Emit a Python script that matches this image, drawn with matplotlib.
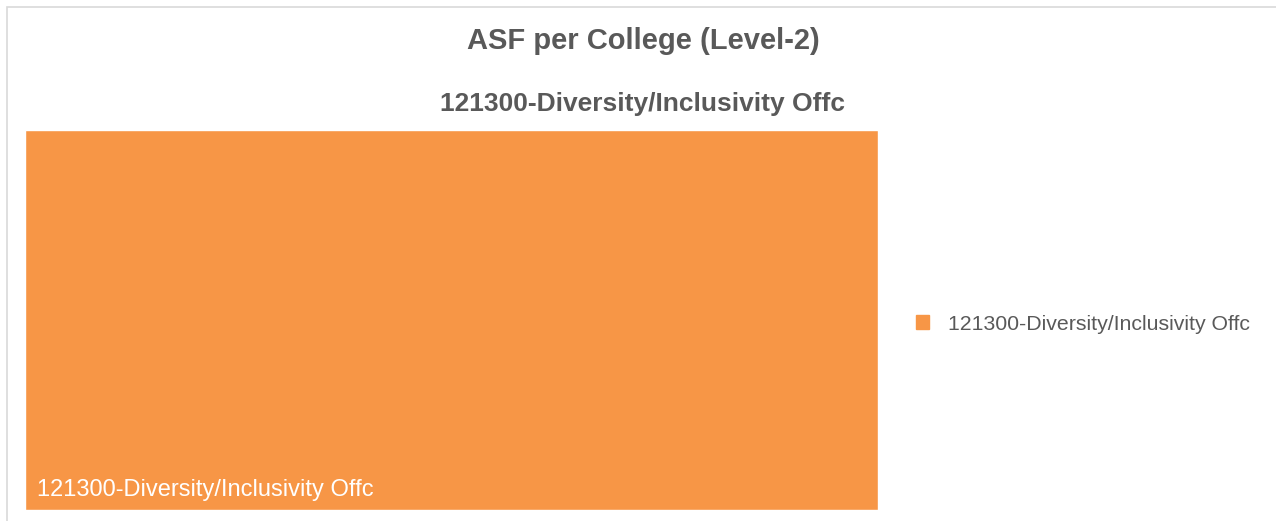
import matplotlib
matplotlib.use('Agg')
import matplotlib.pyplot as plt
import matplotlib.patches as patches

# Data
categories = ['121300-Diversity/Inclusivity Offc']
values = [1.0]
colors = ['#F79646']

plt.rcParams['font.family'] = ['Liberation Sans', 'DejaVu Sans']

W, H = 1276, 521
fig = plt.figure(figsize=(W / 100, H / 100), dpi=100)

# outer chart border
border = patches.Rectangle((7 / W, -0.1), 1.2, (H - 7) / H + 0.1, transform=fig.transFigure,
                           fill=False, edgecolor='#D9D9D9', linewidth=1.2)
fig.patches.append(border)

fig.text(643 / W, 1 - 41 / H, 'ASF per College (Level-2)', ha='center', va='center',
         fontsize=21, fontweight='bold', color='#595959')
fig.text(643 / W, 1 - 104 / H, '121300-Diversity/Inclusivity Offc', ha='center', va='center',
         fontsize=19, fontweight='bold', color='#595959')

# plot area for the treemap
x0, x1, y0, y1 = 25, 878, 130, 510
ax = fig.add_axes([x0 / W, 1 - y1 / H, (x1 - x0) / W, (y1 - y0) / H])
ax.set_xlim(0, 1)
ax.set_ylim(0, 1)
ax.axis('off')

# simple slice layout along x
total = sum(values)
left = 0
for cat, val, col in zip(categories, values, colors):
    w = val / total
    ax.add_patch(patches.Rectangle((left, 0), w, 1, facecolor=col, edgecolor='white', linewidth=1))
    ax.text(left + 0.014, 0.052, cat, ha='left', va='center', fontsize=17, color='white')
    left += w

# legend
handles = [patches.Patch(facecolor=c, edgecolor=c, label=l) for l, c in zip(categories, colors)]
fig.legend(handles=handles, loc='center left', bbox_to_anchor=(897 / W, 1 - 324 / H),
           frameon=False, fontsize=15.3, labelcolor='#595959', handlelength=0.6, handleheight=0.6,
           handletextpad=0.9)

fig.savefig('out.png', dpi=100)
